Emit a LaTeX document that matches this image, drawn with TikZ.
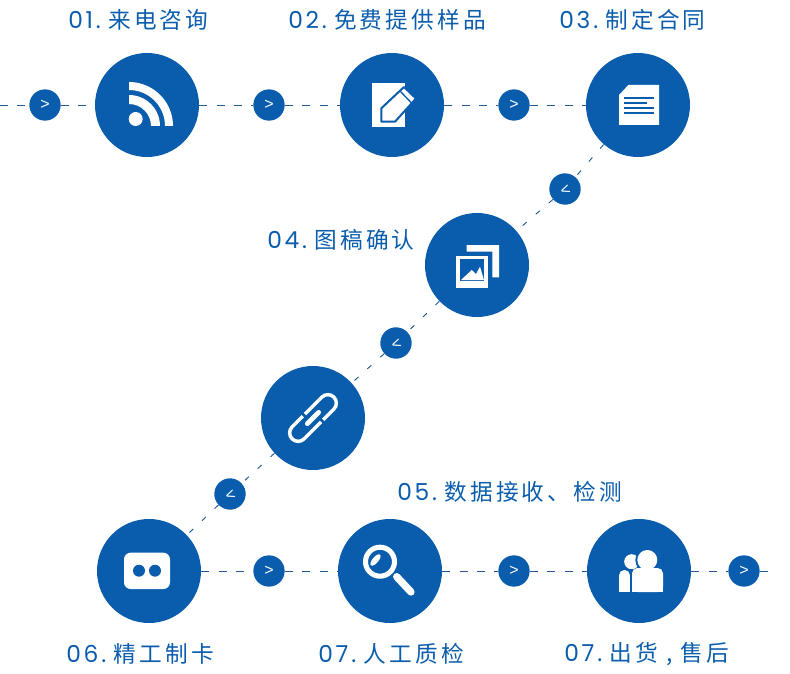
\documentclass[tikz,border=0pt]{standalone}
\usepackage{fontspec}
\setmainfont{Poppins}
\newfontfamily\cjkfont[LetterSpace=14]{Noto Sans CJK SC}
\newfontfamily\numfont[LetterSpace=12]{Poppins}
\newfontfamily\tipfont{Liberation Sans}
\definecolor{stepblue}{HTML}{0A5DAD}
\definecolor{dashblue}{HTML}{1F5A94}
\newcommand{\steplabel}[2]{{\fontsize{17.5}{20}\numfont #1}\hspace{5.5pt}{\fontsize{17}{20}\cjkfont #2}}
\tikzset{
 bigdot/.style={circle,fill=stepblue,minimum size=78pt,inner sep=0pt},
 smalldot/.style={circle,fill=stepblue,text=white,minimum size=23.5pt,inner sep=0pt,font=\fontsize{12}{12}\tipfont},
 tiltdot/.style={smalldot,rotate=200},
 steptext/.style={text=stepblue,inner sep=0pt,anchor=west},
 dashline/.style={dashblue,line width=0.7pt,dash pattern=on 6pt off 7pt},
 tiltline/.style={dashblue,line width=0.7pt,dash pattern=on 4pt off 9pt},
}
\begin{document}
\begin{tikzpicture}[x=0.75pt,y=-0.75pt]
\useasboundingbox (0,0) rectangle (790,674);
% big circles
\foreach \name/\x/\y in {c1/147/105,c2/392/105,c3/638/105,c4/477/265,c5/313/418,c6/149/571,c7/390/571,c8/639/571}
 \node[bigdot] (\name) at (\x,\y) {};
% small circles
\foreach \name/\x/\y in {s1/45/105,s2/269/105,s3/514/105,s7/269/571,s8/514/571,s9/744/571}
 \node[smalldot] (\name) at (\x,\y) {>};
\foreach \name/\x/\y in {s4/565/189,s5/396/343,s6/230/494}
 \node[tiltdot] (\name) at (\x,\y) {>};
\coordinate (start) at (0,105);
\coordinate (stop) at (775,571);
% dashed links
\draw[dashline] (start)--(s1);
\draw[dashline] (s1)--(c1);
\draw[dashline] (c1)--(s2);
\draw[dashline] (s2)--(c2);
\draw[dashline] (c2)--(s3);
\draw[dashline] (s3)--(c3);
\draw[tiltline] (c3)--(s4);
\draw[tiltline] (s4)--(c4);
\draw[tiltline] (c4)--(s5);
\draw[tiltline] (s5)--(c5);
\draw[tiltline] (c5)--(s6);
\draw[tiltline] (s6)--(c6);
\draw[dashline] (c6)--(s7);
\draw[dashline] (s7)--(c7);
\draw[dashline] (c7)--(s8);
\draw[dashline] (s8)--(c8);
\draw[dashline] (c8)--(s9);
\draw[dashline] (s9)--(stop);
% labels
\node[steptext] (t1) at (68,20) {\steplabel{01.}{来电咨询}};
\node[steptext] (t2) at (288,20) {\steplabel{02.}{免费提供样品}};
\node[steptext] (t3) at (559,20) {\steplabel{03.}{制定合同}};
\node[steptext] (t4) at (267,240) {\steplabel{04.}{图稿确认}};
\node[steptext] (t5) at (397,492) {\steplabel{05.}{数据接收、检测}};
\node[steptext] (t6) at (66,654) {\steplabel{06.}{精工制卡}};
\node[steptext] (t7) at (318,654) {\steplabel{07.}{人工质检}};
\node[steptext] (t8) at (564,654) {\steplabel{07.}{出货 , 售后}};
% rss
\fill[white](135.7,119) circle (7);
\fill[white](129,82) arc (-90:0:44)--++(-8,0) arc (0:-90:36)--cycle;
\fill[white](129,95) arc (-90:0:31)--++(-9,0) arc (0:-90:22)--cycle;
% paper and pencil
\fill[white](372,83)--(405,83)--(405,127)--(372,127)--cycle;
\draw[fill=white,draw=stepblue,line width=1.5pt,line join=round](381.3,121.7)--(381.3,108.3)--(404,87)--(416,98.5)--(395,121.7)--cycle;
\draw[stepblue,line width=1pt](400,91)--(411.5,103);
% document
\fill[white](628.3,85)--(659,85)--(659,125)--(619,125)--(619,95)--cycle;
\foreach \y/\e in {98.3/654,103.3/646.7,108.3/654,113.3/654}
 \fill[stepblue](624,\y-1.2)rectangle(\e,\y+1.2);
% pictures
\fill[white](466.7,245)--(499,245)--(499,277.3)--(492.3,277.3)--(492.3,251.7)--(466.7,251.7)--cycle;
\fill[stepblue](454,254)rectangle(489.7,290);
\fill[white](456,256)rectangle(487.7,288);
\fill[stepblue](460,259.3)rectangle(484.3,281);
\fill[white](461,280)--(471.7,270)--(476,274)--(480,266.7)--(484,280)--cycle;
% chain
\begin{scope}[shift={(c5.center)},rotate=45]
\draw[white,line width=2.6pt](-3,-8.5)--(21,-8.5) arc (-90:90:8.5)--(6,8.5);
\draw[white,line width=2.6pt](3,8.5)--(-21,8.5) arc (90:270:8.5)--(-6,-8.5);
\draw[white,line width=3.6pt,line cap=round](-8,0)--(8,0);
\end{scope}
% card
\fill[white,rounded corners=5](124,552.7)rectangle(170,589);
\fill[stepblue](139,570.7) circle (6);
\fill[stepblue](155,570.7) circle (6);
% magnifier
\draw[white,line width=3.8pt](380,561.7) circle (14.5);
\draw[white,line width=5.5pt,line cap=round](396.7,576.7)--(411,592);
\fill[white,rotate around={50:(375.5,560)}](375.5,560) ellipse (7 and 3);
% people
\fill[white](631.7,561.7) circle (7.5);
\fill[white,rounded corners=4](619,592)--(619,570)--(630,570)--(630,592)--cycle;
\fill[white](619,586) rectangle (630,592);
\fill[stepblue](647.3,560) circle (12);
\fill[white](647.3,560) circle (10);
\fill[stepblue](630,569) rectangle (632,592);
\fill[white,rounded corners=4](632,592)--(632,568)--(663,568)--(663,592)--cycle;
\fill[white](632,586) rectangle (663,592);
\end{tikzpicture}
\end{document}
